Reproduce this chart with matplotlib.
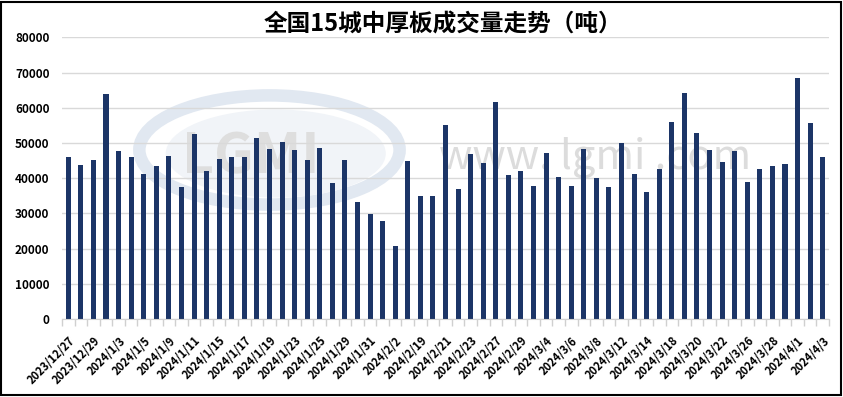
import matplotlib.pyplot as plt
from matplotlib.patches import Ellipse, Rectangle

plt.rcParams['font.family'] = ['Noto Sans CJK SC', 'DejaVu Sans']

# dates (only every other one is labelled on the axis)
dates = ['2023/12/27', '2023/12/28', '2023/12/29', '2024/1/2', '2024/1/3', '2024/1/4',
         '2024/1/5', '2024/1/8', '2024/1/9', '2024/1/10', '2024/1/11', '2024/1/12',
         '2024/1/15', '2024/1/16', '2024/1/17', '2024/1/18', '2024/1/19', '2024/1/22',
         '2024/1/23', '2024/1/24', '2024/1/25', '2024/1/26', '2024/1/29', '2024/1/30',
         '2024/1/31', '2024/2/1', '2024/2/2', '2024/2/18', '2024/2/19', '2024/2/20',
         '2024/2/21', '2024/2/22', '2024/2/23', '2024/2/26', '2024/2/27', '2024/2/28',
         '2024/2/29', '2024/3/1', '2024/3/4', '2024/3/5', '2024/3/6', '2024/3/7',
         '2024/3/8', '2024/3/11', '2024/3/12', '2024/3/13', '2024/3/14', '2024/3/15',
         '2024/3/18', '2024/3/19', '2024/3/20', '2024/3/21', '2024/3/22', '2024/3/25',
         '2024/3/26', '2024/3/27', '2024/3/28', '2024/3/29', '2024/4/1', '2024/4/2',
         '2024/4/3']

# volume (tons)
volume = [46000, 43700, 45200, 63900, 47700, 46000, 41200, 43500, 46300, 37500,
          52600, 42000, 45400, 46000, 46000, 51400, 48300, 50300, 48000, 45200,
          48600, 38600, 45200, 33200, 29800, 27800, 20700, 44900, 34900, 34900,
          55100, 36900, 46900, 44300, 61600, 40900, 42000, 37800, 47200, 40300,
          37800, 48300, 40100, 37500, 50000, 41200, 36100, 42600, 56000, 64200,
          52800, 48000, 44600, 47700, 38900, 42600, 43500, 44000, 68500, 55700,
          46000]

yticks = [0, 10000, 20000, 30000, 40000, 50000, 60000, 70000, 80000]
title = '全国15城中厚板成交量走势（吨）'

fig = plt.figure(figsize=(8.43, 3.97), dpi=100)
ax = fig.add_axes([62 / 843, 1 - 319 / 397, 767 / 843, (319 - 37.3) / 397])

# faint watermark
ax.add_patch(Ellipse((16.0, 48000), 20.7, 31000, facecolor='none',
                     edgecolor='#e1e8f1', linewidth=9, zorder=0))
ax.add_patch(Ellipse((16.5, 47000), 17.5, 25000, facecolor='#f1f4f8',
                     edgecolor='none', zorder=0))
ax.text(14.5, 46000, 'LGMI', ha='center', va='center', fontsize=40,
        fontweight='bold', color='#dedede', zorder=0.5)
ax.text(41.9, 46000, 'www. lgmi .com', ha='center', va='center', fontsize=30,
        color='#dcdcdc', zorder=0.5)

x = list(range(len(dates)))
ax.bar(x, volume, width=0.4, color='#1c3567', zorder=2)

ax.set_xlim(-0.5, len(dates) - 0.5)
ax.set_ylim(0, 80000)
ax.set_yticks(yticks)
ax.set_yticklabels([str(v) for v in yticks], fontsize=8.5, fontweight='bold')
ax.grid(axis='y', color='#d9d9d9', linewidth=1, zorder=0)
ax.set_axisbelow(True)

# x labels every other bar, category boundary ticks
ax.set_xticks(x[::2])
ax.set_xticklabels(dates[::2], rotation=45, ha='right', rotation_mode='anchor',
                   fontsize=8, fontweight='bold')
ax.set_xticks([i - 0.5 for i in range(len(dates) + 1)], minor=True)
ax.tick_params(axis='x', which='major', length=0, pad=11)
ax.tick_params(axis='x', which='minor', length=5, color='#d0d0d0', width=1)
ax.tick_params(axis='y', length=0, pad=9)

for s in ['top', 'right', 'left']:
    ax.spines[s].set_visible(False)
ax.spines['bottom'].set_color('#d0d0d0')

fig.text(443 / 843, 1 - 25 / 397, title, ha='center', va='center', fontsize=17,
         fontweight='bold')

fig.patches.append(Rectangle((0.001, 0.004), 0.997, 0.992, transform=fig.transFigure,
                             fill=False, edgecolor='black', linewidth=1.5))

fig.savefig('out.png', dpi=100)
